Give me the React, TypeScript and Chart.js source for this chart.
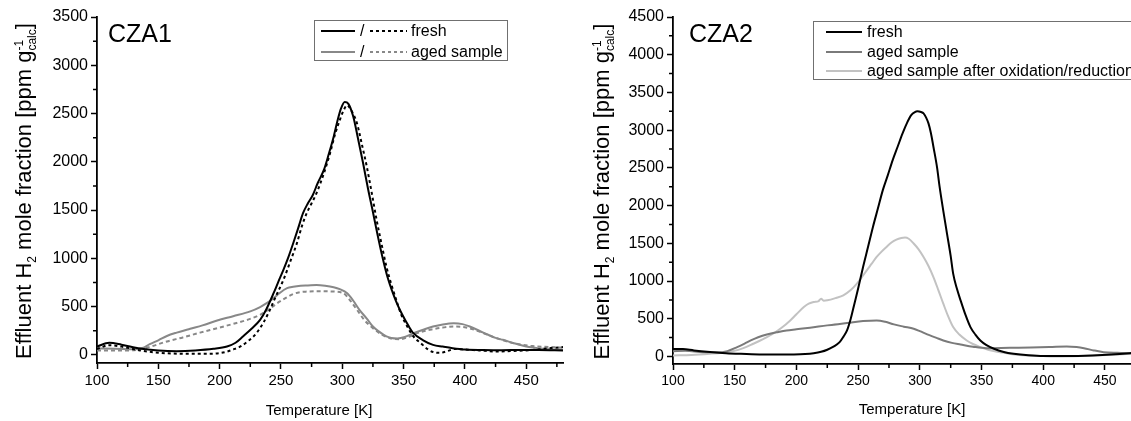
import React, { useEffect, useRef } from 'react';
import { Chart, registerables } from 'chart.js';

Chart.register(...registerables);

const FONT = '"Liberation Sans", Arial, Helvetica, sans-serif';

// ---- axis ticks ----
const xTickValues = [100, 125, 150, 175, 200, 225, 250, 275, 300, 325, 350, 375, 400, 425, 450, 475];
const xLabelValues = [100, 150, 200, 250, 300, 350, 400, 450];
const cza1YTickValues = [0, 250, 500, 750, 1000, 1250, 1500, 1750, 2000, 2250, 2500, 2750, 3000, 3250, 3500];
const cza1YLabelValues = [0, 500, 1000, 1500, 2000, 2500, 3000, 3500];
const cza2YTickValues = [0, 250, 500, 750, 1000, 1250, 1500, 1750, 2000, 2250, 2500, 2750, 3000, 3250, 3500, 3750, 4000, 4250, 4500];
const cza2YLabelValues = [0, 500, 1000, 1500, 2000, 2500, 3000, 3500, 4000, 4500];

// ---- labels ----
const cza1Labels = ['fresh', 'aged sample'];
const cza2Labels = ['fresh', 'aged sample', 'aged sample after oxidation/reduction'];

// ---- CZA1 data ----
const cza1FreshSolidT = [100, 110, 120, 135, 150, 165, 180, 195, 206, 213, 219, 226, 233, 238, 244, 248, 252, 256, 260, 264, 268, 272, 276, 280, 285, 289, 293, 296, 299, 302, 305, 309, 313, 317, 321, 325, 329, 333, 337, 341, 345, 349, 354, 358, 366, 374, 382, 390, 400, 415, 430, 445, 460, 480];
const cza1FreshSolidV = [86, 124, 105, 65, 45, 38, 45, 62, 86, 125, 190, 270, 362, 470, 638, 760, 880, 1010, 1156, 1310, 1467, 1570, 1656, 1780, 1915, 2080, 2260, 2420, 2553, 2620, 2600, 2467, 2230, 1984, 1720, 1480, 1230, 1000, 800, 650, 520, 415, 300, 224, 150, 103, 85, 69, 55, 50, 48, 50, 50, 45];

const cza1FreshDotT = [100, 110, 120, 135, 150, 165, 180, 195, 205, 211, 217, 224, 230, 236, 241, 246, 252, 258, 263, 267, 271, 275, 279, 285, 290, 294, 298, 301, 304, 307, 312, 316, 320, 324, 328, 332, 336, 340, 344, 348, 353, 358, 364, 370, 375, 380, 386, 392, 400, 412, 426, 440, 455, 470, 480];
const cza1FreshDotV = [60, 100, 85, 45, 22, 12, 10, 12, 30, 55, 86, 150, 224, 340, 466, 610, 776, 980, 1156, 1330, 1467, 1570, 1674, 1880, 2087, 2280, 2433, 2530, 2585, 2540, 2398, 2180, 1950, 1680, 1398, 1150, 914, 730, 570, 420, 293, 190, 121, 55, 25, 20, 40, 60, 55, 45, 34, 40, 50, 70, 80];

const cza1AgedSolidT = [100, 115, 130, 137, 143, 150, 157, 165, 176, 186, 198, 211, 225, 233, 239, 244, 249, 255, 260, 266, 272, 279, 286, 293, 298, 304, 309, 314, 320, 325, 330, 336, 340, 345, 351, 358, 366, 374, 382, 391, 398, 404, 415, 425, 431, 440, 450, 459, 470, 480];
const cza1AgedSolidV = [65, 62, 58, 70, 110, 150, 195, 230, 270, 305, 355, 400, 450, 495, 540, 586, 640, 690, 705, 715, 718, 722, 715, 700, 680, 638, 560, 466, 375, 293, 240, 190, 175, 170, 185, 224, 260, 293, 315, 327, 318, 293, 230, 175, 155, 120, 85, 69, 58, 52];

const cza1AgedDashT = [100, 120, 135, 145, 157, 170, 184, 198, 211, 222, 233, 240, 247, 254, 260, 266, 271, 282, 293, 301, 306, 312, 318, 325, 332, 339, 347, 354, 361, 368, 374, 382, 391, 401, 412, 426, 440, 455, 470, 480];
const cza1AgedDashV = [45, 45, 55, 90, 138, 180, 230, 276, 320, 360, 414, 470, 535, 590, 630, 650, 655, 658, 655, 638, 570, 466, 360, 276, 210, 172, 162, 185, 224, 250, 265, 282, 293, 283, 240, 172, 120, 90, 80, 75];

// ---- CZA2 data ----
const cza2FreshT = [100, 108, 117, 130, 143, 155, 170, 185, 198, 207, 214, 220, 225, 230, 235, 238, 241, 244, 247, 250, 254, 258, 262, 266, 270, 274, 278, 282, 286, 290, 293, 296, 298, 301, 303, 305, 307, 309, 311, 314, 316, 319, 322, 325, 327, 330, 333, 337, 341, 345, 349, 354, 360, 368, 376, 388, 400, 420, 440, 455, 470, 480];
const cza2FreshV = [100, 98, 80, 60, 44, 35, 27, 25, 27, 33, 44, 62, 89, 130, 190, 260, 345, 500, 700, 900, 1186, 1450, 1717, 1960, 2205, 2400, 2603, 2780, 2957, 3110, 3200, 3240, 3250, 3240, 3223, 3170, 3090, 2960, 2780, 2500, 2250, 1930, 1629, 1330, 1098, 900, 744, 550, 389, 290, 212, 150, 102, 60, 36, 15, 5, 5, 13, 25, 44, 60];

const cza2AgedT = [100, 110, 124, 135, 144, 152, 158, 163, 169, 176, 184, 192, 200, 211, 225, 241, 254, 265, 272, 279, 287, 295, 300, 306, 313, 319, 326, 333, 343, 354, 373, 390, 405, 419, 427, 433, 441, 449, 460, 470, 480];
const cza2AgedV = [70, 75, 57, 55, 71, 124, 170, 212, 255, 292, 320, 345, 360, 381, 412, 442, 469, 478, 460, 425, 395, 367, 335, 292, 250, 212, 180, 159, 130, 110, 115, 118, 124, 133, 125, 110, 80, 57, 48, 44, 44];

const cza2OxRedT = [100, 115, 130, 140, 149, 157, 165, 173, 181, 188, 195, 200, 206, 210, 214, 218, 220, 222, 225, 232, 238, 244, 249, 253, 257, 261, 265, 269, 273, 277, 281, 285, 288, 291, 295, 299, 303, 307, 311, 315, 319, 323, 327, 332, 338, 343, 349, 356, 365, 375, 387, 400, 414, 430, 441, 455, 470, 480];
const cza2OxRedV = [13, 20, 36, 50, 71, 110, 168, 230, 301, 380, 478, 560, 655, 700, 721, 735, 766, 740, 744, 775, 810, 880, 965, 1050, 1142, 1230, 1319, 1390, 1452, 1510, 1549, 1570, 1576, 1560, 1497, 1420, 1319, 1200, 1053, 880, 700, 530, 389, 290, 212, 165, 124, 85, 57, 30, 13, 5, 0, 5, 13, 22, 36, 45];

const BLACK = '#000000';
const GRAY1 = '#888888';
const GRAY2 = '#7a7a7a';
const LIGHT = '#c2c2c2';

function drawYTitle(ctx: any, baselineX: number, centerY: number) {
  const big = 22;
  const small = 12;
  const segs: any[] = [
    { t: 'Effluent H', s: big, dy: 0 },
    { t: '2', s: small, dy: 5 },
    { t: ' mole fraction [ppm g', s: big, dy: 0 },
    { t: 'calc', s: small, dy: 5 },
    { t: '-1', s: small, dy: -8, stack: true },
    { t: ']', s: big, dy: 0 },
  ];
  let x = 0;
  let prevStart = 0;
  let prevW = 0;
  const placed: any[] = [];
  for (const g of segs) {
    ctx.font = `${g.s}px ${FONT}`;
    const w = ctx.measureText(g.t).width;
    if (g.stack) {
      placed.push({ ...g, x: prevStart });
      x += Math.max(0, w - prevW);
    } else {
      placed.push({ ...g, x });
      prevStart = x;
      prevW = w;
      x += w;
    }
  }
  const total = x;
  ctx.save();
  ctx.translate(baselineX, centerY);
  ctx.rotate(-Math.PI / 2);
  ctx.fillStyle = '#000';
  ctx.textAlign = 'left';
  ctx.textBaseline = 'alphabetic';
  for (const p of placed) {
    ctx.font = `${p.s}px ${FONT}`;
    ctx.fillText(p.t, p.x - total / 2, p.dy);
  }
  ctx.restore();
}

function seg(ctx: any, x1: number, x2: number, y: number, color: string, dash: number[]) {
  ctx.save();
  ctx.beginPath();
  ctx.setLineDash(dash);
  ctx.strokeStyle = color;
  ctx.lineWidth = 2;
  ctx.moveTo(x1, y);
  ctx.lineTo(x2, y);
  ctx.stroke();
  ctx.restore();
}

function legendText(ctx: any, t: string, x: number, y: number) {
  ctx.fillStyle = '#000';
  ctx.font = `16px ${FONT}`;
  ctx.textAlign = 'left';
  ctx.textBaseline = 'middle';
  ctx.fillText(t, x, y + 1);
}

function legendCZA1(ctx: any) {
  ctx.save();
  ctx.strokeStyle = '#707070';
  ctx.lineWidth = 1;
  ctx.setLineDash([]);
  ctx.strokeRect(314.5, 20.5, 193, 40);
  const rows = [
    { y: 31, c: BLACK, label: cza1Labels[0] },
    { y: 52, c: GRAY1, label: cza1Labels[1] },
  ];
  for (const r of rows) {
    seg(ctx, 321, 355, r.y, r.c, []);
    legendText(ctx, '/', 360, r.y);
    seg(ctx, 370, 407, r.y, r.c, [3, 3]);
    legendText(ctx, r.label, 411, r.y);
  }
  ctx.restore();
}

function legendCZA2(ctx: any) {
  ctx.save();
  ctx.strokeStyle = '#707070';
  ctx.lineWidth = 1;
  ctx.setLineDash([]);
  ctx.strokeRect(243.5, 21.5, 400, 58);
  const rows = [
    { y: 32, c: BLACK, label: cza2Labels[0] },
    { y: 52, c: GRAY2, label: cza2Labels[1] },
    { y: 71, c: LIGHT, label: cza2Labels[2] },
  ];
  for (const r of rows) {
    seg(ctx, 256, 292, r.y, r.c, []);
    legendText(ctx, r.label, 297, r.y);
  }
  ctx.restore();
}

function makeDecor(p: any) {
  return {
    id: 'decor_' + p.name,
    afterDraw(chart: any) {
      const { ctx, chartArea: a } = chart;
      const xs = chart.scales.x;
      const ys = chart.scales.y;
      ctx.save();
      // minor ticks
      ctx.strokeStyle = '#000';
      ctx.lineWidth = 1.5;
      ctx.beginPath();
      for (const v of xTickValues) {
        if (xLabelValues.includes(v)) continue;
        const px = xs.getPixelForValue(v);
        ctx.moveTo(px, a.bottom);
        ctx.lineTo(px, a.bottom + 4);
      }
      for (const v of p.yTicks) {
        if (p.yLabels.includes(v)) continue;
        const py = ys.getPixelForValue(v);
        ctx.moveTo(a.left, py);
        ctx.lineTo(a.left - 4, py);
      }
      ctx.stroke();
      // panel name
      ctx.fillStyle = '#000';
      ctx.font = `25px ${FONT}`;
      ctx.textAlign = 'left';
      ctx.textBaseline = 'alphabetic';
      ctx.fillText(p.name, p.nameX, 42);
      // x title
      ctx.font = `15px ${FONT}`;
      ctx.textAlign = 'center';
      ctx.textBaseline = 'middle';
      ctx.fillText('Temperature [K]', p.xTitleX, p.xTitleY);
      // y title
      drawYTitle(ctx, a.left - p.yTitleGap, (a.top + a.bottom) / 2 + 1);
      // legend
      p.legend(ctx);
      ctx.restore();
    },
  };
}

function buildChart(canvas: HTMLCanvasElement, p: any) {
  return new Chart(canvas, {
    type: 'line',
    data: {
      datasets: p.series.map((s: any) => ({
        label: s.label,
        data: s.t.map((t: number, i: number) => ({ x: t, y: s.v[i] })),
        borderColor: s.color,
        borderWidth: 2,
        borderDash: s.dash,
        pointRadius: 0,
        fill: false,
        cubicInterpolationMode: 'monotone',
      })),
    },
    options: {
      responsive: false,
      animation: false,
      devicePixelRatio: 1,
      events: [],
      layout: { padding: { left: 0, right: p.padRight, top: p.padTop, bottom: 0 } },
      plugins: { legend: { display: false }, tooltip: { enabled: false }, title: { display: false } },
      scales: {
        x: {
          type: 'linear',
          min: 100,
          max: 480,
          afterBuildTicks: (s: any) => {
            s.ticks = xTickValues.map((v) => ({ value: v }));
          },
          afterFit: (s: any) => {
            s.height = p.xAxisHeight;
          },
          ticks: {
            autoSkip: false,
            maxRotation: 0,
            minRotation: 0,
            padding: 3,
            color: '#000',
            font: { family: FONT, size: p.xFont },
            callback: (v: any) => (xLabelValues.includes(v) ? String(v) : ''),
          },
          grid: {
            drawOnChartArea: false,
            drawTicks: true,
            tickLength: 6,
            tickWidth: 1.5,
            tickColor: (c: any) => (c.tick && xLabelValues.includes(c.tick.value) ? '#000' : 'rgba(0,0,0,0)'),
          },
          border: { display: true, color: '#000', width: 1.8 },
        },
        y: {
          type: 'linear',
          min: p.yMin,
          max: p.yMax,
          afterBuildTicks: (s: any) => {
            s.ticks = p.yTicks.map((v: number) => ({ value: v }));
          },
          afterFit: (s: any) => {
            s.width = p.yAxisWidth;
          },
          ticks: {
            autoSkip: false,
            padding: 3,
            color: '#000',
            font: { family: FONT, size: 16 },
            callback: (v: any) => (p.yLabels.includes(v) ? String(v) : ''),
          },
          grid: {
            drawOnChartArea: false,
            drawTicks: true,
            tickLength: 6,
            tickWidth: 1.5,
            tickColor: (c: any) => (c.tick && p.yLabels.includes(c.tick.value) ? '#000' : 'rgba(0,0,0,0)'),
          },
          border: { display: true, color: '#000', width: 1.8 },
        },
      },
    } as any,
    plugins: [makeDecor(p)],
  } as any);
}

const cza1Params = {
  name: 'CZA1',
  series: [
    { label: cza1Labels[0], t: cza1FreshSolidT, v: cza1FreshSolidV, color: BLACK, dash: [] },
    { label: cza1Labels[0], t: cza1FreshDotT, v: cza1FreshDotV, color: BLACK, dash: [3, 3] },
    { label: cza1Labels[1], t: cza1AgedSolidT, v: cza1AgedSolidV, color: GRAY1, dash: [] },
    { label: cza1Labels[1], t: cza1AgedDashT, v: cza1AgedDashV, color: GRAY1, dash: [4, 3] },
  ],
  yMin: -85,
  yMax: 3500,
  yTicks: cza1YTickValues,
  yLabels: cza1YLabelValues,
  padRight: 9,
  padTop: 17,
  yAxisWidth: 97,
  xAxisHeight: 58,
  xFont: 15,
  nameX: 108,
  xTitleX: 319,
  xTitleY: 411,
  yTitleGap: 66,
  legend: legendCZA1,
};

const cza2Params = {
  name: 'CZA2',
  series: [
    { label: cza2Labels[0], t: cza2FreshT, v: cza2FreshV, color: BLACK, dash: [] },
    { label: cza2Labels[1], t: cza2AgedT, v: cza2AgedV, color: GRAY2, dash: [] },
    { label: cza2Labels[2], t: cza2OxRedT, v: cza2OxRedV, color: LIGHT, dash: [] },
  ],
  yMin: -100,
  yMax: 4500,
  yTicks: cza2YTickValues,
  yLabels: cza2YLabelValues,
  padRight: 10,
  padTop: 17,
  yAxisWidth: 103,
  xAxisHeight: 57,
  xFont: 14,
  nameX: 119,
  xTitleX: 342,
  xTitleY: 410,
  yTitleGap: 64,
  legend: legendCZA2,
};

function Panel({ params, left, width }: any) {
  const ref = useRef<HTMLCanvasElement>(null);
  useEffect(() => {
    const chart = buildChart(ref.current as HTMLCanvasElement, params);
    return () => chart.destroy();
  }, [params]);
  return (
    <canvas
      ref={ref}
      width={width}
      height={421}
      style={{ position: 'absolute', left, top: 0, width, height: 421 }}
    />
  );
}

export default function App() {
  return (
    <div
      style={{
        position: 'fixed',
        left: 0,
        top: 0,
        width: 1131,
        height: 421,
        overflow: 'hidden',
        background: '#fff',
      }}
    >
      <Panel params={cza1Params} left={0} width={572} />
      <Panel params={cza2Params} left={570} width={582} />
    </div>
  );
}
